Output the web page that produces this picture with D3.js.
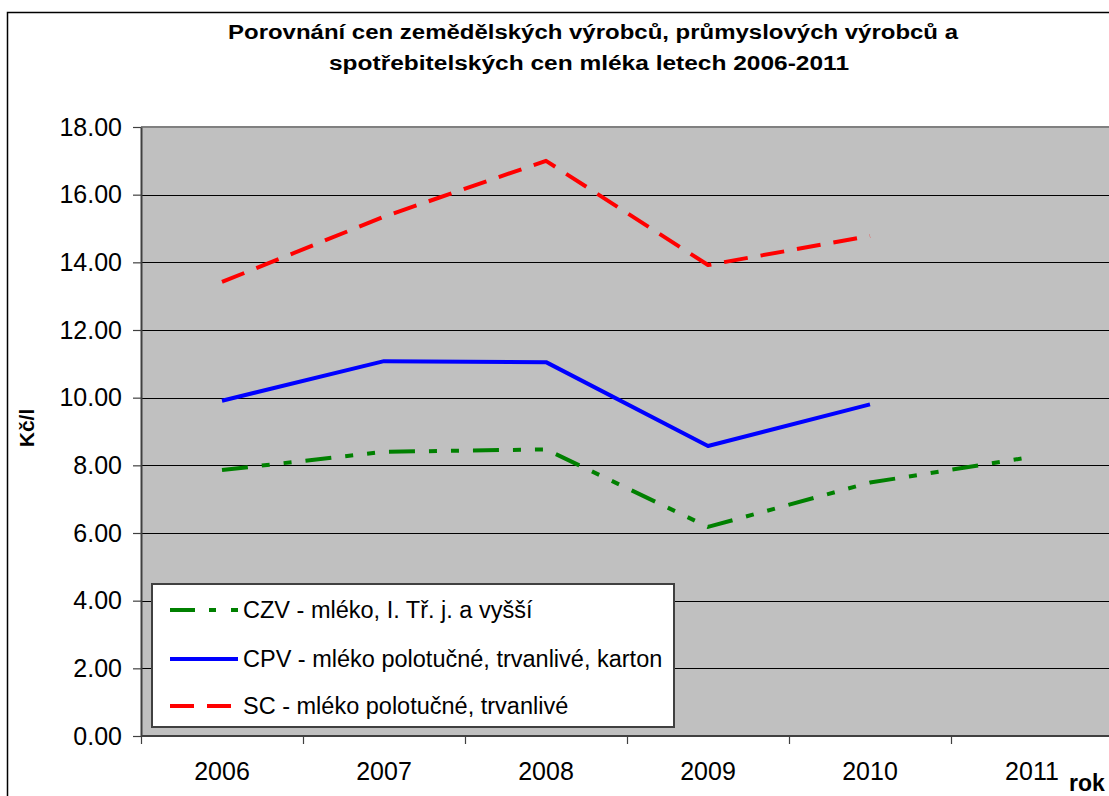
<!DOCTYPE html>
<html>
<head>
<meta charset="utf-8">
<script src="https://cdn.jsdelivr.net/npm/d3@7"></script>
<style>
  body { margin: 0; background: #fff; }
  text { font-family: Arial, "Liberation Sans", sans-serif; }
</style>
</head>
<body>
<div id="chart"></div>
<script>
// Data
var years = ['2006', '2007', '2008', '2009', '2010', '2011'];
var czv = [7.86, 8.40, 8.47, 6.18, 7.49, 8.25];
var cpv = [9.91, 11.08, 11.05, 8.57, 9.80, null];
var sc = [13.42, 15.35, 17.00, 13.92, 14.78, null];
var yTicks = [0, 2, 4, 6, 8, 10, 12, 14, 16, 18];
var seriesNames = ['CZV - mléko, I. Tř. j. a vyšší',
                   'CPV - mléko polotučné, trvanlivé, karton',
                   'SC - mléko polotučné, trvanlivé'];

var width = 1109;
var height = 796;
var plotLeft = 141, plotRight = 1113, plotTop = 127, plotBottom = 736;

var svg = d3.select('#chart').append('svg')
    .attr('width', width)
    .attr('height', height);

svg.append('rect').attr('width', width).attr('height', height).attr('fill', '#fff');

// outer chart border (right and bottom fall outside the picture)
svg.append('path')
    .attr('d', 'M7.5,' + height + 'V12.5H' + width)
    .attr('fill', 'none')
    .attr('stroke', '#000')
    .attr('stroke-width', 1.5);

// Title (text in the original is stretched horizontally)
var title = svg.append('text')
    .attr('text-anchor', 'middle')
    .attr('font-weight', 'bold')
    .attr('font-size', '20px');
title.append('tspan').attr('x', 593).attr('y', 39)
    .attr('textLength', 730).attr('lengthAdjust', 'spacingAndGlyphs')
    .text('Porovnání cen zemědělských výrobců, průmyslových výrobců a');
title.append('tspan').attr('x', 589).attr('y', 70)
    .attr('textLength', 520).attr('lengthAdjust', 'spacingAndGlyphs')
    .text('spotřebitelských cen mléka letech 2006-2011');

// Scales
var x = d3.scaleBand().domain(years).range([plotLeft, plotRight]);
var y = d3.scaleLinear().domain([0, 18]).range([plotBottom, plotTop]);

// Plot area
svg.append('rect')
    .attr('x', plotLeft).attr('y', plotTop)
    .attr('width', plotRight - plotLeft).attr('height', plotBottom - plotTop)
    .attr('fill', '#c0c0c0');

// Grid lines
svg.append('g')
    .selectAll('line')
    .data(yTicks.filter(function(d) { return d > 0 && d < 18; }))
    .enter().append('line')
    .attr('x1', plotLeft).attr('x2', plotRight)
    .attr('y1', function(d) { return Math.round(y(d)) + 0.5; })
    .attr('y2', function(d) { return Math.round(y(d)) + 0.5; })
    .attr('stroke', '#000')
    .attr('stroke-width', 1.2);

// top border of plot area
svg.append('line')
    .attr('x1', plotLeft).attr('x2', plotRight)
    .attr('y1', plotTop).attr('y2', plotTop)
    .attr('stroke', '#808080').attr('stroke-width', 2);

// Y axis
var yAxis = svg.append('g')
    .attr('transform', 'translate(' + plotLeft + ',0)')
    .call(d3.axisLeft(y).tickValues(yTicks).tickFormat(d3.format('.2f')).tickSizeInner(8).tickSizeOuter(0).tickPadding(11));
yAxis.select('.domain').attr('stroke', '#404040').attr('stroke-width', 2);
yAxis.selectAll('.tick line').attr('stroke', '#404040').attr('stroke-width', 1.2);
yAxis.selectAll('text').attr('font-size', '25px').attr('fill', '#000')
    .style('font-family', 'Arial, "Liberation Sans", sans-serif');

// X axis, ticks between categories
var xAxis = svg.append('g')
    .attr('transform', 'translate(0,' + plotBottom + ')');
xAxis.append('line')
    .attr('x1', plotLeft).attr('x2', plotRight)
    .attr('stroke', '#404040').attr('stroke-width', 2);
xAxis.selectAll('.xt')
    .data(years)
    .enter().append('line')
    .attr('class', 'xt')
    .attr('x1', function(d) { return x(d) + 0.5; })
    .attr('x2', function(d) { return x(d) + 0.5; })
    .attr('y1', 0).attr('y2', 8)
    .attr('stroke', '#404040').attr('stroke-width', 1.2);
xAxis.selectAll('.xl')
    .data(years)
    .enter().append('text')
    .attr('class', 'xl')
    .attr('x', function(d) { return x(d) + x.bandwidth() / 2; })
    .attr('y', 44)
    .attr('text-anchor', 'middle')
    .attr('font-size', '25px')
    .text(function(d) { return d; });

// Axis titles
svg.append('text')
    .attr('transform', 'translate(34,428) rotate(-90)')
    .attr('text-anchor', 'middle')
    .attr('font-weight', 'bold')
    .attr('font-size', '21px')
    .text('Kč/l');

svg.append('text')
    .attr('x', 1069).attr('y', 791)
    .attr('font-weight', 'bold')
    .attr('font-size', '23px')
    .text('rok');

// Lines
var styles = [
    { data: czv, color: '#008000', dash: '26,14,8,14,8,14', w: 4 },
    { data: cpv, color: '#0000ff', dash: null, w: 4 },
    { data: sc, color: '#ff0000', dash: '24,13', w: 4 }
];

var line = d3.line()
    .defined(function(d) { return d !== null; })
    .x(function(d, i) { return x(years[i]) + x.bandwidth() / 2; })
    .y(function(d) { return y(d); });

styles.forEach(function(s) {
    svg.append('path')
        .datum(s.data)
        .attr('d', line)
        .attr('fill', 'none')
        .attr('stroke', s.color)
        .attr('stroke-width', s.w)
        .attr('stroke-dasharray', s.dash)
        .attr('stroke-linejoin', 'round');
});

// Legend
var legend = svg.append('g');
legend.append('rect')
    .attr('x', 152).attr('y', 584)
    .attr('width', 522).attr('height', 143)
    .attr('fill', '#fff')
    .attr('stroke', '#404040')
    .attr('stroke-width', 2);

var rowY = [610, 659, 706];
styles.forEach(function(s, i) {
    legend.append('line')
        .attr('x1', 170).attr('x2', 238)
        .attr('y1', rowY[i]).attr('y2', rowY[i])
        .attr('stroke', s.color)
        .attr('stroke-width', s.w)
        .attr('stroke-dasharray', i == 0 ? '25,14,7,15,7' : (i == 2 ? '24,13' : null));
    legend.append('text')
        .attr('x', 243).attr('y', rowY[i] + 8)
        .attr('font-size', '23.5px')
        .text(seriesNames[i]);
});
</script>
</body>
</html>
